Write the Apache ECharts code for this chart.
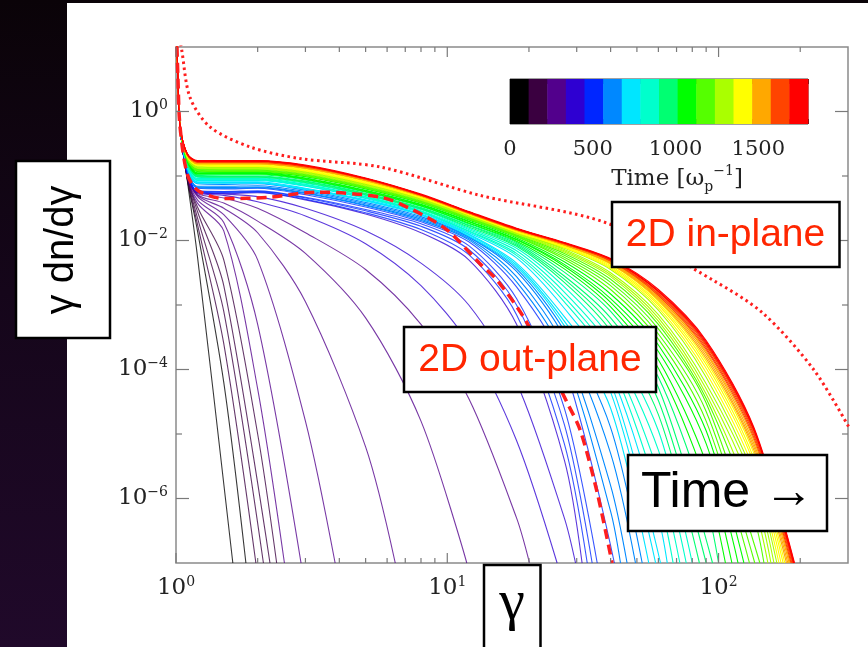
<!DOCTYPE html>
<html>
<head>
<meta charset="utf-8">
<script src="https://cdn.jsdelivr.net/npm/echarts@6/dist/echarts.min.js"></script>
<style>
html, body { margin: 0; padding: 0; }
body {
  width: 868px; height: 647px; overflow: hidden; position: relative;
  background: linear-gradient(to bottom, #0a0308 0%, #15061a 45%, #20092a 100%);
}
#panel { position: absolute; left: 67px; top: 3px; width: 801px; height: 644px; background: #fff; }
#chart { position: absolute; left: 0; top: 0; width: 868px; height: 647px; }
</style>
</head>
<body>
<div id="panel"></div>
<div id="chart"></div>
<script>
// colour table of the time bar (16 steps over 0..1800)
var colorbarColors = ['#000000', '#3a0040', '#52008c', '#2e00d2', '#0026ff', '#0088ff', '#00e6ff', '#00ffcc',
  '#00ff72', '#00ff00', '#55ff00', '#aaff00', '#ffff00', '#ffa800', '#ff4400', '#ff0000'];
var timeMax = 1800;

// log10 axes ticks
var xMajorTicks = [1, 10, 100];
var xMinorTicks = [2, 3, 4, 5, 6, 7, 8, 9, 20, 30, 40, 50, 60, 70, 80, 90, 200];
var yMajorTicks = [1, 1e-2, 1e-4, 1e-6];
var yMinorTicks = [1e-1, 1e-3, 1e-5];

// spectra: shared thermal head, then log10(gamma dn/dgamma) at gammaGrid, then the cut-off gamma at 1e-7
var headGamma = [1.0, 1.017, 1.034];
var headLog = [1.5, 0.5, -0.22];
var gammaGrid = [1.1, 1.2, 1.5, 2, 3, 5, 8, 12, 18, 27, 40, 60, 90, 135];
var floorLog = -7;

var curveTimes = [70, 98, 126, 155, 183, 211, 232, 252, 272, 292, 312, 332, 360, 395, 430,
  464, 492, 520, 548, 576, 605, 633, 661, 689, 717, 745, 773, 801, 830, 858, 886,
  914, 942, 970, 998, 1026, 1055, 1083, 1111, 1139, 1167, 1195, 1223, 1251, 1280, 1308, 1336,
  1364, 1392, 1420, 1448, 1476, 1505, 1533, 1561, 1589, 1617, 1645, 1673, 1701, 1730, 1758, 1786];

var curveCut = [1.62, 1.81, 1.97, 2.10, 2.22, 2.35, 2.51, 2.89, 3.86, 6.43, 11.8, 20.1, 25.4, 29.7,
  31.4, 32.8, 34.2, 35.7, 41.3, 43.5, 46, 49.4, 52.3, 55.3, 58.6, 61.1, 64.7, 68, 72, 76,
  80, 85, 90, 95, 100, 106, 112, 118, 124, 130, 136, 142, 147, 152, 156, 160,
  164, 167, 170, 173, 175.5, 178, 180, 182, 183.5, 185, 186.3, 187.5, 188.3, 189, 189.8, 190.5];

var curveLog = [
  [-1.06, -2.25],
  [-1.05, -1.85, -4.2],
  [-1.04, -1.75, -3.6],
  [-1.03, -1.65, -3.1],
  [-1.02, -1.55, -2.7],
  [-1.01, -1.48, -2.3, -5.0],
  [-1.00, -1.42, -1.85, -4.3],
  [-0.99, -1.37, -1.72, -3.3],
  [-0.98, -1.32, -1.6, -2.3, -4.8],
  [-0.97, -1.30, -1.5, -1.88, -2.95, -5.2],
  [-0.96, -1.29, -1.42, -1.7, -2.2, -3.2, -4.8],
  [-0.95, -1.27, -1.34, -1.5, -1.88, -2.45, -3.3, -4.45, -6.3],
  [-0.95, -1.26, -1.30, -1.4, -1.62, -2.05, -2.7, -3.6, -5.1],
  [-0.94, -1.25, -1.28, -1.32, -1.5, -1.85, -2.35, -3.0, -4.2, -6.3],
  [-0.94, -1.25, -1.27, -1.26, -1.37, -1.59, -1.88, -2.3, -3.3, -5.4],
  [-0.94, -1.24, -1.26, -1.25, -1.36, -1.57, -1.83, -2.22, -3.15, -5.15],
  [-0.93, -1.24, -1.25, -1.24, -1.34, -1.54, -1.78, -2.14, -3.0, -4.85],
  [-0.93, -1.23, -1.24, -1.23, -1.33, -1.52, -1.74, -2.08, -2.9, -4.6],
  [-0.91, -1.19, -1.20, -1.19, -1.29, -1.48, -1.71, -2.02, -2.72, -3.95],
  [-0.90, -1.18, -1.19, -1.18, -1.27, -1.46, -1.69, -1.99, -2.64, -3.8, -6.2],
  [-0.90, -1.17, -1.18, -1.17, -1.26, -1.45, -1.67, -1.97, -2.56, -3.65, -5.8],
  [-0.89, -1.16, -1.16, -1.15, -1.24, -1.43, -1.65, -1.95, -2.48, -3.5, -5.3],
  [-0.87, -1.12, -1.13, -1.12, -1.22, -1.41, -1.63, -1.94, -2.44, -3.4, -4.9],
  [-0.86, -1.11, -1.11, -1.11, -1.21, -1.39, -1.61, -1.93, -2.41, -3.32, -4.6],
  [-0.86, -1.10, -1.10, -1.10, -1.20, -1.38, -1.60, -1.91, -2.38, -3.25, -4.35],
  [-0.85, -1.09, -1.09, -1.09, -1.19, -1.37, -1.59, -1.90, -2.35, -3.18, -4.2],
  [-0.84, -1.07, -1.07, -1.07, -1.16, -1.35, -1.57, -1.88, -2.27, -3.05, -4.05, -6.3],
  [-0.83, -1.06, -1.06, -1.06, -1.15, -1.34, -1.56, -1.86, -2.23, -2.95, -3.9, -5.95],
  [-0.83, -1.05, -1.05, -1.05, -1.14, -1.33, -1.55, -1.85, -2.20, -2.88, -3.78, -5.6],
  [-0.82, -1.04, -1.04, -1.04, -1.13, -1.32, -1.54, -1.83, -2.16, -2.8, -3.65, -5.25],
  [-0.81, -1.02, -1.03, -1.03, -1.11, -1.30, -1.52, -1.81, -2.12, -2.72, -3.52, -4.95],
  [-0.80, -1.01, -1.02, -1.02, -1.10, -1.29, -1.51, -1.79, -2.09, -2.65, -3.4, -4.7],
  [-0.80, -1.00, -1.01, -1.01, -1.09, -1.28, -1.50, -1.77, -2.07, -2.6, -3.3, -4.48],
  [-0.79, -0.99, -1.00, -1.00, -1.08, -1.27, -1.49, -1.76, -2.05, -2.55, -3.2, -4.28],
  [-0.78, -0.98, -0.98, -0.98, -1.06, -1.25, -1.47, -1.74, -2.03, -2.49, -3.1, -4.12, -6.1],
  [-0.77, -0.97, -0.97, -0.97, -1.05, -1.24, -1.46, -1.73, -2.01, -2.44, -3.03, -3.98, -5.75],
  [-0.77, -0.96, -0.96, -0.96, -1.04, -1.23, -1.45, -1.71, -1.99, -2.4, -2.96, -3.85, -5.45],
  [-0.76, -0.95, -0.95, -0.95, -1.03, -1.22, -1.44, -1.70, -1.98, -2.37, -2.9, -3.72, -5.15],
  [-0.75, -0.93, -0.94, -0.94, -1.01, -1.20, -1.42, -1.68, -1.96, -2.33, -2.83, -3.62, -4.95],
  [-0.74, -0.92, -0.93, -0.93, -1.00, -1.19, -1.41, -1.67, -1.94, -2.29, -2.76, -3.53, -4.8],
  [-0.74, -0.91, -0.92, -0.92, -0.99, -1.18, -1.40, -1.66, -1.93, -2.26, -2.7, -3.45, -4.65],
  [-0.73, -0.90, -0.91, -0.91, -0.98, -1.17, -1.39, -1.65, -1.92, -2.23, -2.65, -3.37, -4.52],
  [-0.72, -0.89, -0.90, -0.90, -0.97, -1.16, -1.38, -1.64, -1.91, -2.2, -2.6, -3.3, -4.45, -6.3],
  [-0.72, -0.88, -0.89, -0.89, -0.96, -1.15, -1.37, -1.63, -1.90, -2.18, -2.56, -3.25, -4.38, -6.1],
  [-0.71, -0.87, -0.88, -0.88, -0.95, -1.14, -1.36, -1.62, -1.89, -2.16, -2.53, -3.2, -4.3, -5.9],
  [-0.71, -0.86, -0.87, -0.87, -0.94, -1.13, -1.35, -1.61, -1.88, -2.14, -2.5, -3.15, -4.22, -5.75],
  [-0.70, -0.85, -0.86, -0.86, -0.93, -1.12, -1.35, -1.61, -1.88, -2.12, -2.45, -3.08, -4.12, -5.65],
  [-0.70, -0.84, -0.85, -0.85, -0.92, -1.11, -1.34, -1.60, -1.87, -2.11, -2.43, -3.04, -4.05, -5.55],
  [-0.69, -0.83, -0.84, -0.84, -0.91, -1.10, -1.33, -1.60, -1.86, -2.10, -2.41, -3.0, -3.98, -5.45],
  [-0.69, -0.83, -0.83, -0.83, -0.90, -1.09, -1.33, -1.59, -1.86, -2.09, -2.39, -2.97, -3.92, -5.38],
  [-0.68, -0.82, -0.82, -0.82, -0.89, -1.08, -1.32, -1.59, -1.85, -2.08, -2.37, -2.94, -3.87, -5.3],
  [-0.68, -0.81, -0.81, -0.81, -0.88, -1.07, -1.31, -1.58, -1.84, -2.07, -2.36, -2.92, -3.83, -5.25],
  [-0.68, -0.81, -0.81, -0.81, -0.88, -1.07, -1.31, -1.58, -1.84, -2.07, -2.35, -2.9, -3.79, -5.2],
  [-0.67, -0.80, -0.80, -0.80, -0.87, -1.06, -1.31, -1.58, -1.84, -2.06, -2.34, -2.88, -3.75, -5.15],
  [-0.67, -0.79, -0.79, -0.79, -0.86, -1.05, -1.30, -1.57, -1.83, -2.05, -2.33, -2.86, -3.72, -5.1],
  [-0.67, -0.79, -0.79, -0.79, -0.86, -1.05, -1.30, -1.57, -1.83, -2.05, -2.32, -2.85, -3.69, -5.06],
  [-0.66, -0.78, -0.78, -0.78, -0.85, -1.05, -1.30, -1.57, -1.83, -2.05, -2.31, -2.83, -3.66, -5.02],
  [-0.66, -0.78, -0.78, -0.78, -0.85, -1.04, -1.29, -1.56, -1.82, -2.04, -2.31, -2.82, -3.63, -4.99],
  [-0.66, -0.78, -0.77, -0.77, -0.84, -1.04, -1.29, -1.56, -1.82, -2.04, -2.30, -2.80, -3.61, -4.96],
  [-0.66, -0.77, -0.77, -0.77, -0.84, -1.04, -1.29, -1.56, -1.82, -2.04, -2.29, -2.79, -3.59, -4.94],
  [-0.66, -0.77, -0.77, -0.77, -0.84, -1.04, -1.29, -1.56, -1.82, -2.04, -2.29, -2.78, -3.57, -4.92],
  [-0.65, -0.76, -0.76, -0.76, -0.83, -1.03, -1.28, -1.55, -1.81, -2.03, -2.28, -2.76, -3.55, -4.90]
];

// 2D out-plane (dashed) and 2D in-plane (dotted), final time
var dashedGamma = [1.0, 1.017, 1.034, 1.1, 1.2, 1.5, 2.2, 3.3, 5.7, 7.5, 10, 13.2, 15.3, 19.7, 27.7, 30.9, 35.7, 40.5];
var dashedLog = [1.5, 0.5, -0.22, -0.97, -1.22, -1.35, -1.33, -1.25, -1.33, -1.53, -1.84, -2.36, -2.62, -3.28, -4.52, -4.94, -5.91, -7];
var dottedGamma = [1.04, 1.05, 1.126, 1.335, 1.876, 2.87, 5.66, 13.2, 38.8, 95.8, 146, 224, 302];
var dottedLog = [1.05, 0.95, 0.22, -0.24, -0.55, -0.73, -0.86, -1.3, -1.73, -2.62, -3.13, -4.0, -4.89];

var serif = '"DejaVu Serif", "Liberation Serif", serif';
var sans = '"Liberation Sans", Arial, sans-serif';

function decadeLabel(v) {
  var e = Math.round(Math.log(v) / Math.LN10);
  if (Math.abs(v / Math.pow(10, e) - 1) > 1e-6) return '';
  return '{b|10}{e|' + (e < 0 ? '\u2212' : '') + Math.abs(e) + '}';
}
var labelRich = {
  b: { fontFamily: serif, fontSize: 23, color: '#222', lineHeight: 26 },
  e: { fontFamily: serif, fontSize: 14, color: '#222', lineHeight: 15, verticalAlign: 'top', padding: [0, 0, 17, 0] }
};

var chart = echarts.init(document.getElementById('chart'));

var series = [];
curveLog.forEach(function (vals, k) {
  var pts = [];
  headGamma.forEach(function (g, j) { pts.push([g, Math.pow(10, headLog[j])]); });
  vals.forEach(function (v, j) { pts.push([gammaGrid[j], Math.pow(10, v)]); });
  pts.push([curveCut[k], Math.pow(10, floorLog)]);
  var bin = Math.min(colorbarColors.length - 1, Math.floor(curveTimes[k] / (timeMax / colorbarColors.length)));
  series.push({
    type: 'line', xAxisIndex: 0, yAxisIndex: 0, data: pts, showSymbol: false, smooth: 0.3,
    lineStyle: { width: 1.1, color: colorbarColors[bin], opacity: bin < 5 ? 0.78 : 1 }, silent: true, z: 2
  });
});

function pairs(gs, ls) {
  return gs.map(function (g, i) { return [g, Math.pow(10, ls[i])]; });
}
series.push({
  type: 'line', data: pairs(dashedGamma, dashedLog), showSymbol: false, smooth: 0.3, silent: true, z: 3,
  lineStyle: { width: 3.5, color: '#ff1e1e', type: [10, 6] }
});
series.push({
  type: 'line', data: pairs(dottedGamma, dottedLog), showSymbol: false, smooth: 0.3, silent: true, z: 3,
  lineStyle: { width: 3, color: '#ff1e1e', type: [2.5, 3.5] }
});

var tickStyle = { stroke: '#7a7a7a', lineWidth: 1.2 };
function xTicks(len) {
  return function (params, api) {
    var cs = params.coordSys;
    var x = api.coord([api.value(0), 1])[0];
    var b = cs.y + cs.height, t = cs.y;
    return { type: 'group', children: [
      { type: 'line', shape: { x1: x, y1: b, x2: x, y2: b - len }, style: tickStyle },
      { type: 'line', shape: { x1: x, y1: t, x2: x, y2: t + len }, style: tickStyle }
    ] };
  };
}
function yTicks(len) {
  return function (params, api) {
    var cs = params.coordSys;
    var y = api.coord([1, api.value(1)])[1];
    var l = cs.x, r = cs.x + cs.width;
    return { type: 'group', children: [
      { type: 'line', shape: { x1: l, y1: y, x2: l + len, y2: y }, style: tickStyle },
      { type: 'line', shape: { x1: r, y1: y, x2: r - len, y2: y }, style: tickStyle }
    ] };
  };
}
series.push({ type: 'custom', silent: true, z: 5, renderItem: xTicks(10), data: xMajorTicks.map(function (v) { return [v, 1]; }) });
series.push({ type: 'custom', silent: true, z: 5, renderItem: xTicks(5), data: xMinorTicks.map(function (v) { return [v, 1]; }) });
series.push({ type: 'custom', silent: true, z: 5, renderItem: yTicks(13), data: yMajorTicks.map(function (v) { return [1, v]; }) });
series.push({ type: 'custom', silent: true, z: 5, renderItem: yTicks(6), data: yMinorTicks.map(function (v) { return [1, v]; }) });

// colour bar cells
var step = timeMax / colorbarColors.length;
series.push({
  type: 'custom', xAxisIndex: 1, yAxisIndex: 1, silent: true, z: 2,
  data: colorbarColors.map(function (c, i) { return [i * step, (i + 1) * step, i]; }),
  renderItem: function (params, api) {
    var p0 = api.coord([api.value(0), 1]);
    var p1 = api.coord([api.value(1), 0]);
    return { type: 'rect', shape: { x: p0[0], y: p0[1], width: p1[0] - p0[0] + 0.5, height: p1[1] - p0[1] },
      style: { fill: colorbarColors[api.value(2)] } };
  }
});

function cbTickAxis(pos) {
  return {
    type: 'value', gridIndex: 1, position: pos, min: 0, max: timeMax, interval: step,
    axisLine: { show: false }, splitLine: { show: false }, axisLabel: { show: false },
    axisTick: { inside: true, length: 5, lineStyle: { color: '#222', width: 1 } }
  };
}

function boxText(x, y, w, h, text, cx, cy, font, color) {
  return [
    { type: 'rect', z: 100, shape: { x: x, y: y, width: w, height: h }, style: { fill: '#fff', stroke: '#000', lineWidth: 2.5 } },
    { type: 'text', z: 101, x: cx, y: cy, style: { text: text, font: font, fill: color,
      align: 'center', verticalAlign: 'middle', textAlign: 'center', textVerticalAlign: 'middle' } }
  ];
}

var graphic = [].concat(
  boxText(612, 202, 227.5, 65, '2D in-plane', 725.5, 235, '39px ' + sans, '#ff2600'),
  boxText(404, 327, 252, 65, '2D out-plane', 530, 360, '39px ' + sans, '#ff2600'),
  boxText(628, 455, 199, 76, 'Time \u2192', 727.5, 493, '50px ' + sans, '#000'),
  boxText(484, 565, 56.5, 95, '\u03b3', 512, 604, '58px "Liberation Serif", serif', '#000'),
  [
    { type: 'rect', z: 100, shape: { x: 16, y: 161, width: 94, height: 177 }, style: { fill: '#fff', stroke: '#000', lineWidth: 2.5 } },
    { type: 'text', z: 101, x: 62, y: 250, rotation: Math.PI / 2,
      style: { text: '\u03b3 dn/d\u03b3', font: '40px ' + sans, fill: '#000',
        align: 'center', verticalAlign: 'middle', textAlign: 'center', textVerticalAlign: 'middle' } },
    { type: 'text', z: 101, x: 677, y: 179,
      style: {
        text: '{a|Time [\u03c9}{s|p}{u|\u22121}{a|]}',
        align: 'center', verticalAlign: 'middle', textAlign: 'center', textVerticalAlign: 'middle',
        rich: {
          a: { fontFamily: serif, fontSize: 23, fill: '#222', color: '#222', lineHeight: 30 },
          s: { fontFamily: serif, fontSize: 14, fill: '#222', color: '#222', verticalAlign: 'top', padding: [16, 0, 0, 0] },
          u: { fontFamily: serif, fontSize: 14, fill: '#222', color: '#222', verticalAlign: 'top', padding: [0, 0, 16, 0] }
        }
      } }
  ]
);

chart.setOption({
  animation: false,
  backgroundColor: 'transparent',
  grid: [
    { left: 176, top: 47, width: 672, height: 516, show: true, borderColor: '#8a8a8a', borderWidth: 1.5, outerBoundsMode: 'none' },
    { left: 510, top: 79, width: 298, height: 45, show: true, borderColor: '#444', borderWidth: 1, outerBoundsMode: 'none' }
  ],
  xAxis: [
    {
      type: 'log', logBase: 10, gridIndex: 0, position: 'bottom', min: 1, max: 300,
      axisLine: { show: false }, axisTick: { show: false }, splitLine: { show: false },
      axisLabel: { margin: 12, formatter: decadeLabel, rich: labelRich }
    },
    cbTickAxis('bottom'),
    cbTickAxis('top'),
    {
      type: 'value', gridIndex: 1, position: 'bottom', min: 0, max: timeMax, interval: 500,
      axisLine: { show: false }, axisTick: { show: false }, splitLine: { show: false },
      axisLabel: {
        margin: 15, showMaxLabel: false, fontFamily: serif, fontSize: 21, color: '#222',
        formatter: function (v) { return String(v); }
      }
    }
  ],
  yAxis: [
    {
      type: 'log', logBase: 10, gridIndex: 0, min: 1e-7, max: 10,
      axisLine: { show: false }, axisTick: { show: false }, splitLine: { show: false },
      axisLabel: {
        margin: 8, rich: labelRich,
        formatter: function (v) {
          var e = Math.round(Math.log(v) / Math.LN10);
          return e % 2 === 0 ? decadeLabel(v) : '';
        }
      }
    },
    { type: 'value', gridIndex: 1, min: 0, max: 1, show: false }
  ],
  series: series,
  graphic: graphic
});
</script>
</body>
</html>
